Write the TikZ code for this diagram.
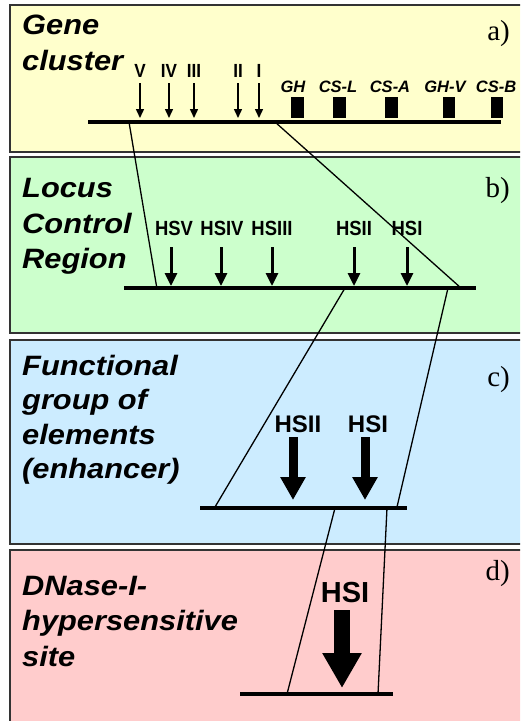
\documentclass[tikz,border=0pt]{standalone}
\usepackage{fontspec}
\setmainfont{Liberation Sans}
\newfontfamily\bigfont[FakeStretch=1.1]{Liberation Sans}
\newfontfamily\narrowfont[FakeStretch=0.9]{Liberation Sans}
\newfontfamily\serfont{Liberation Serif}
\usetikzlibrary{arrows.meta}
\definecolor{pya}{HTML}{FFFFCC}
\definecolor{pyb}{HTML}{CCFFCC}
\definecolor{pyc}{HTML}{CCECFF}
\definecolor{pyd}{HTML}{FFCCCC}
\definecolor{edge}{HTML}{333333}
\begin{document}
\begin{tikzpicture}[x=1pt,y=-1pt,
  panel/.style={draw=edge, line width=1.5pt},
  title/.style={font=\bigfont\bfseries\itshape\fontsize{28}{28}\selectfont, anchor=base west, inner sep=0},
  tag/.style={font=\serfont\fontsize{29}{29}\selectfont, anchor=base east, inner sep=0},
  dna/.style={line width=4pt},
  link/.style={line width=1.3pt},
  numlab/.style={font=\narrowfont\bfseries\fontsize{19}{19}\selectfont, anchor=base, inner sep=0},
  genelab/.style={font=\bfseries\itshape\fontsize{16.5}{16.5}\selectfont, anchor=base, inner sep=0},
  genebox/.style={fill=black, minimum width=12.5pt, minimum height=21pt, inner sep=0},
  hslab/.style={font=\narrowfont\bfseries\fontsize{20.5}{20.5}\selectfont, anchor=base, inner sep=0},
  hsclab/.style={font=\bfseries\fontsize{24}{24}\selectfont, anchor=base, inner sep=0},
  hsdlab/.style={font=\bfseries\fontsize{29}{29}\selectfont, anchor=base, inner sep=0},
  thinarr/.style={line width=1.5pt, -{Triangle[width=8pt,length=9pt]}},
  medarr/.style={line width=3pt, -{Triangle[width=12pt,length=13pt]}},
  bigarr/.style={line width=9pt, -{Triangle[width=24pt,length=23pt]}},
  hugearr/.style={line width=16pt, -{Triangle[width=37pt,length=35pt]}}
]
\useasboundingbox (0,0) rectangle (520,721);
\clip (0,0) rectangle (520,721);
\fill[white] (0,0) rectangle (520,721);

% panels
\filldraw[panel, fill=pya] (10,5) rectangle (535,152);
\filldraw[panel, fill=pyb] (10,157) rectangle (535,333);
\filldraw[panel, fill=pyc] (10,340) rectangle (535,544);
\filldraw[panel, fill=pyd] (10,550) rectangle (535,735);

% ---- panel a
\node[title] (ta1) at (22,34) {Gene};
\node[title] (ta2) at (22,70) {cluster};
\node[tag] (taga) at (510,40) {a)};
\coordinate (La0) at (88,122);
\coordinate (La1) at (501,122);
\draw[dna] (La0) -- (La1);
\foreach \x/\n/\t in {140/a5/V,169/a4/IV,194/a3/III,238/a2/II,259/a1/I}{
  \node[numlab] (lab\n) at (\x,77) {\t};
  \coordinate (s\n) at (\x,83);
  \coordinate (e\n) at (\x,118);
  \draw[thinarr] (s\n) -- (e\n);
}
\foreach \x/\l/\n/\t in {297.5/293/gh/GH,339.5/338/csl/CS-L,391.5/390/csa/CS-A,449/445/ghv/GH-V,497/496/csb/CS-B}{
  \node[genebox] (box\n) at (\x,107.5) {};
  \node[genelab] (lab\n) at (\l,92) {\t};
}

% ---- panel b
\node[title] (tb1) at (22,197) {Locus};
\node[title] (tb2) at (22,233) {Control};
\node[title] (tb3) at (22,268) {Region};
\node[tag] (tagb) at (510,197) {b)};
\coordinate (Lb0) at (124,288);
\coordinate (Lb1) at (476,288);
\draw[dna] (Lb0) -- (Lb1);
\foreach \x/\l/\n/\t in {171/174/b5/HSV,221/222/b4/HSIV,272/272/b3/HSIII,354/354/b2/HSII,407/407/b1/HSI}{
  \node[hslab] (lab\n) at (\l,235) {\t};
  \coordinate (s\n) at (\x,247);
  \coordinate (e\n) at (\x,286);
  \draw[medarr] (s\n) -- (e\n);
}

% ---- panel c
\node[title] (tc1) at (22,375) {Functional};
\node[title] (tc2) at (22,409) {group of};
\node[title] (tc3) at (22,444) {elements};
\node[title] (tc4) at (22,478) {(enhancer)};
\node[tag] (tagc) at (510,386) {c)};
\coordinate (Lc0) at (200,508);
\coordinate (Lc1) at (407,508);
\draw[dna] (Lc0) -- (Lc1);
\foreach \x/\l/\n/\t in {293/298/c2/HSII,365/368/c1/HSI}{
  \node[hsclab] (lab\n) at (\l,432) {\t};
  \coordinate (s\n) at (\x,437);
  \coordinate (e\n) at (\x,500);
  \draw[bigarr] (s\n) -- (e\n);
}

% ---- panel d
\node[title] (td1) at (22,595) {DNase-I-};
\node[title] (td2) at (22,630) {hypersensitive};
\node[title] (td3) at (22,666) {site};
\node[tag] (tagd) at (510,580) {d)};
\coordinate (Ld0) at (240,694);
\coordinate (Ld1) at (393,694);
\draw[dna] (Ld0) -- (Ld1);
\node[hsdlab] (labd1) at (345,602) {HSI};
\coordinate (sd1) at (342,610);
\coordinate (ed1) at (342,688);
\draw[hugearr] (sd1) -- (ed1);

% ---- zoom connectors
\coordinate (a1) at (129,122);
\coordinate (a2) at (275,122);
\coordinate (b1) at (157,289);
\coordinate (b2) at (461,288);
\coordinate (b3) at (345,288);
\coordinate (b4) at (448,288);
\coordinate (c1) at (215,507);
\coordinate (c2) at (397,507);
\coordinate (c3) at (335,508);
\coordinate (c4) at (387,508);
\coordinate (d1) at (287,694);
\coordinate (d2) at (378,694);
\draw[link] (a1) -- (b1);
\draw[link] (a2) -- (b2);
\draw[link] (b3) -- (c1);
\draw[link] (b4) -- (c2);
\draw[link] (c3) -- (d1);
\draw[link] (c4) -- (d2);
\end{tikzpicture}
\end{document}
